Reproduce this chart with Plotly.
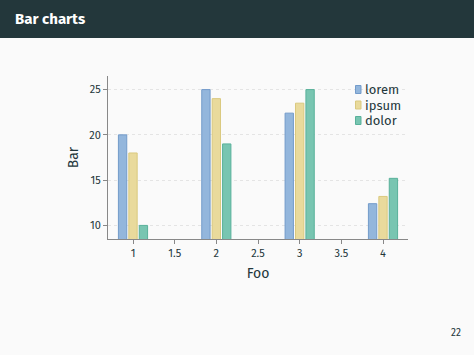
import plotly.graph_objects as go

x_vals = [1, 2, 3, 4]
lorem = [20, 25, 22.4, 12.4]
ipsum = [18, 24, 23.5, 13.2]
dolor = [10, 19, 25, 15.2]
series_names = ["lorem", "ipsum", "dolor"]
fills = ["#93b6dc", "#e9da9c", "#78c5b1"]
borders = ["#739bca", "#dac97f", "#58b19a"]
offsets = [-0.175, -0.05, 0.075]
x_ticks = [1, 1.5, 2, 2.5, 3, 3.5, 4]
y_ticks = [10, 15, 20, 25]

W, H = 474, 355
ml, mr, mt, mb = 108, 66, 76, 116
pw, ph = W - ml - mr, H - mt - mb

FONT = "Fira Sans, Open Sans, Noto Sans, sans-serif"
DARK = "#23373b"

fig = go.Figure()
for name, vals, fc, bc, off in zip(series_names, [lorem, ipsum, dolor], fills, borders, offsets):
    fig.add_trace(go.Bar(
        x=x_vals, y=vals, name=name, width=0.1, offset=off, base=0,
        marker=dict(color=fc, line=dict(color=bc, width=1)),
        showlegend=False,
    ))

def px_x(p):
    return (p - ml) / pw

def px_y(p):
    return 1 - (p - mt) / ph

shapes = [dict(type="rect", xref="paper", yref="paper",
               x0=px_x(0), x1=px_x(W), y0=px_y(38), y1=px_y(0),
               fillcolor=DARK, line=dict(width=0), layer="below")]
annotations = [
    dict(text="<b>Bar charts</b>", xref="paper", yref="paper",
         x=px_x(13), y=px_y(19), xanchor="left", yanchor="middle",
         showarrow=False, font=dict(size=15, color="white", family=FONT)),
    dict(text="22", xref="paper", yref="paper",
         x=px_x(463), y=px_y(333), xanchor="right", yanchor="middle",
         showarrow=False, font=dict(size=10, color=DARK, family=FONT)),
]

# manual legend
row_y = [89.5, 105, 120.5]
for name, fc, bc, ry in zip(series_names, fills, borders, row_y):
    shapes.append(dict(type="rect", xref="paper", yref="paper",
                       x0=px_x(355.5), x1=px_x(361), y0=px_y(ry + 4), y1=px_y(ry - 4),
                       fillcolor=fc, line=dict(color=bc, width=1)))
    annotations.append(dict(text=name, xref="paper", yref="paper",
                            x=px_x(362.5), y=px_y(ry), xanchor="left", yanchor="middle",
                            showarrow=False, font=dict(size=13, color=DARK, family=FONT)))

fig.update_layout(
    width=W, height=H,
    margin=dict(l=ml, r=mr, t=mt, b=mb),
    paper_bgcolor="#fafafa", plot_bgcolor="#fafafa",
    font=dict(family=FONT, color=DARK),
    barmode="overlay",
    showlegend=False,
    xaxis=dict(range=[0.7, 4.3], tickvals=x_ticks, ticktext=[str(t) for t in x_ticks],
               showline=True, linecolor="#888888", linewidth=1, showgrid=False,
               ticks="outside", ticklen=4, tickcolor="#888888", zeroline=False,
               tickfont=dict(size=11, color=DARK),
               title=dict(text="Foo", font=dict(size=14, color=DARK), standoff=8)),
    yaxis=dict(range=[8.5, 26.5], tickvals=y_ticks,
               showline=True, linecolor="#888888", linewidth=1,
               showgrid=True, gridcolor="#e4e4e4", griddash="dot", gridwidth=1,
               ticks="outside", ticklen=4, tickcolor="#888888", zeroline=False,
               tickfont=dict(size=11, color=DARK),
               title=dict(text="Bar", font=dict(size=14, color=DARK), standoff=7)),
    shapes=shapes,
    annotations=annotations,
)

fig.write_html("out.html")
